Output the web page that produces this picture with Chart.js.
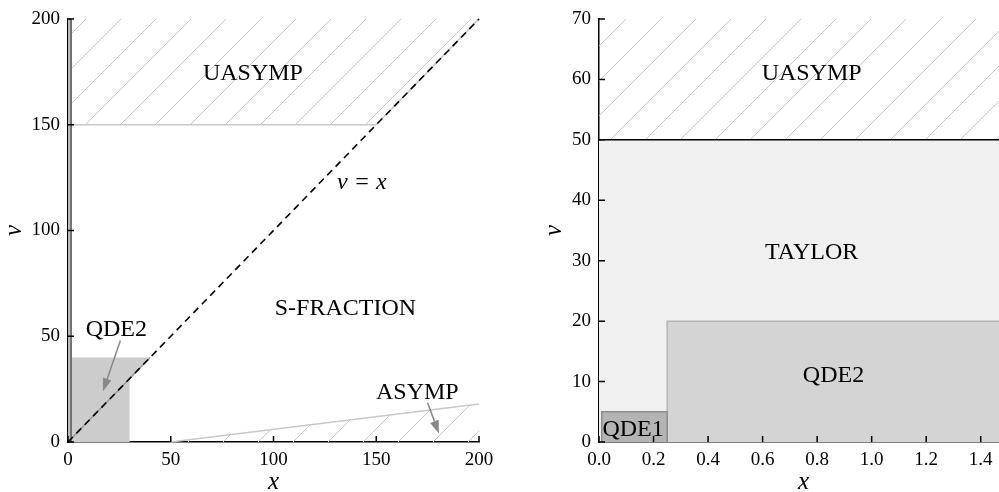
<!DOCTYPE html>
<html>
<head>
<meta charset="utf-8">
<script src="https://cdn.jsdelivr.net/npm/chart.js@4.4.1/dist/chart.umd.min.js"></script>
<style>
  html, body { margin: 0; padding: 0; background: #fff; overflow: hidden; }
  #wrapWide { position: absolute; left: 0; top: 0; width: 500px; height: 492px; }
  #wrapZoom { position: absolute; left: 540px; top: 0; width: 480px; height: 492px; }
</style>
</head>
<body>
<div id="wrapWide"><canvas id="wide"></canvas></div>
<div id="wrapZoom"><canvas id="zoom"></canvas></div>
<script>
// wide view, 0 <= x <= 200
const diagX = [0, 200];
const diagNu = [0, 200];
const uasympX = [0, 150, 200];
const uasympNu = [150, 150, 200];
const asympX = [50, 200];
const asympNu = [0, 18];
const qde2X = [0, 30, 30, 40];
const qde2Nu = [0, 0, 30, 40];
const qde2Top = 40;
const qde2EdgeX = [0, 40];
const qde2EdgeNu = [0, 40];
const stripX = [0, 1.5, 1.5];
const stripNu = [200, 200, 0];

// close-up, 0 <= x <= 1.5
const capX = [0, 1.5];
const capNu = [50, 50];
const qde2sX = [0.25, 0.25, 1.5];
const qde2sNu = [0, 20, 20];
const qde1X = [0.01, 0.01, 0.25, 0.25];
const qde1Nu = [0, 5, 5, 0];

const SERIF = '"Liberation Serif", "DejaVu Serif", serif';
Chart.defaults.font.family = SERIF;
Chart.defaults.color = '#000';

const pts = (xs, ys) => xs.map((v, i) => ({x: v, y: ys[i]}));

// diagonal hatch
function hatch() {
  const c = document.createElement('canvas');
  c.width = 35; c.height = 35;
  const g = c.getContext('2d');
  g.strokeStyle = '#c8c8c8';
  g.lineWidth = 1;
  g.beginPath();
  [-35, 0, 35].forEach(k => { g.moveTo(k, 35); g.lineTo(k + 35, 0); });
  g.stroke();
  return g.createPattern(c, 'repeat');
}
const hatchFill = hatch();

const inwardTicks = {
  id: 'inwardTicks',
  afterDraw(chart) {
    const {ctx, chartArea, scales: {x, y}} = chart;
    ctx.save();
    ctx.strokeStyle = '#000';
    ctx.lineWidth = 1.5;
    ctx.beginPath();
    x.ticks.forEach(t => {
      const px = x.getPixelForValue(t.value);
      ctx.moveTo(px, chartArea.bottom);
      ctx.lineTo(px, chartArea.bottom - 6);
    });
    y.ticks.forEach(t => {
      const py = y.getPixelForValue(t.value);
      ctx.moveTo(chartArea.left, py);
      ctx.lineTo(chartArea.left + 6, py);
    });
    ctx.stroke();
    ctx.restore();
  }
};

const notes = {
  id: 'notes',
  afterDatasetsDraw(chart, args, opts) {
    const {ctx, scales: {x, y}} = chart;
    ctx.save();
    (opts.arrows || []).forEach(a => {
      const x0 = x.getPixelForValue(a.from[0]), y0 = y.getPixelForValue(a.from[1]);
      const x1 = x.getPixelForValue(a.to[0]), y1 = y.getPixelForValue(a.to[1]);
      const ang = Math.atan2(y1 - y0, x1 - x0);
      const hl = 13, hw = 4.5;
      const bx = x1 - hl * Math.cos(ang), by = y1 - hl * Math.sin(ang);
      ctx.strokeStyle = '#888';
      ctx.fillStyle = '#888';
      ctx.lineWidth = 1.5;
      ctx.beginPath();
      ctx.moveTo(x0, y0);
      ctx.lineTo(bx, by);
      ctx.stroke();
      ctx.beginPath();
      ctx.moveTo(x1, y1);
      ctx.lineTo(bx + hw * Math.sin(ang), by - hw * Math.cos(ang));
      ctx.lineTo(bx - hw * Math.sin(ang), by + hw * Math.cos(ang));
      ctx.closePath();
      ctx.fill();
    });
    ctx.fillStyle = '#000';
    ctx.textAlign = 'center';
    ctx.textBaseline = 'middle';
    (opts.labels || []).forEach(l => {
      ctx.font = (l.italic ? 'italic ' : '') + '24px ' + SERIF;
      ctx.fillText(l.text, x.getPixelForValue(l.at[0]), y.getPixelForValue(l.at[1]));
    });
    ctx.restore();
  }
};

function axes(xMin, xMax, xStep, yMax, yStep, yWidth, fmt) {
  const common = {
    type: 'linear',
    z: 1,
    grid: {display: false},
    border: {display: true, color: '#000', width: 1.5},
    title: {display: true, font: {size: 25, style: 'italic', lineHeight: 0.8}, padding: 0}
  };
  return {
    x: Object.assign({}, common, {
      min: xMin, max: xMax,
      title: Object.assign({}, common.title, {text: 'x'}),
      ticks: {stepSize: xStep, includeBounds: false, padding: 1, maxRotation: 0, autoSkip: false,
              font: {size: 19, lineHeight: 1}, callback: fmt},
      afterFit(s) { s.height = 50; s.paddingLeft = 0; s.paddingRight = 0; }
    }),
    y: Object.assign({}, common, {
      min: 0, max: yMax,
      title: Object.assign({}, common.title, {text: 'ν', padding: {top: 4, bottom: 0}}),
      ticks: {stepSize: yStep, padding: 0, font: {size: 19}},
      afterFit(s) { s.width = yWidth; s.paddingTop = 0; s.paddingBottom = 0; }
    })
  };
}

const lineDefaults = {pointRadius: 0, tension: 0, clip: false};

new Chart(document.getElementById('wide'), {
  type: 'line',
  data: {
    datasets: [
      Object.assign({}, lineDefaults, {label: 'UASYMP', data: pts(uasympX, uasympNu), order: 6,
        borderColor: '#c8c8c8', borderWidth: 1.5, backgroundColor: hatchFill, fill: 'end'}),
      Object.assign({}, lineDefaults, {label: 'ASYMP', data: pts(asympX, asympNu), order: 5,
        borderColor: '#c8c8c8', borderWidth: 1.5, backgroundColor: hatchFill, fill: 'origin'}),
      Object.assign({}, lineDefaults, {label: 'QDE2', data: pts(qde2X, qde2Nu), order: 4,
        borderWidth: 0, borderColor: 'rgba(0,0,0,0)', backgroundColor: '#cccccc', fill: {value: qde2Top}}),
      Object.assign({}, lineDefaults, {label: 'QDE2 edge', data: pts(qde2EdgeX, qde2EdgeNu), order: 3,
        borderColor: '#999', borderWidth: 1.5, fill: false}),
      Object.assign({}, lineDefaults, {label: 'strip', data: pts(stripX, stripNu), order: 2,
        borderColor: '#666', borderWidth: 1, backgroundColor: '#bbbbbb', fill: 'origin'}),
      Object.assign({}, lineDefaults, {label: 'nu = x', data: pts(diagX, diagNu), order: 1,
        borderColor: '#000', borderWidth: 1.6, borderDash: [7, 5], fill: false})
    ]
  },
  options: {
    responsive: true,
    maintainAspectRatio: false,
    animation: false,
    layout: {padding: {left: 0, right: 21, top: 19, bottom: 0}},
    plugins: {
      legend: {display: false},
      tooltip: {enabled: false},
      notes: {
        labels: [
          {text: 'UASYMP', at: [90, 174]},
          {text: 'ν = x', at: [143, 122.5], italic: true},
          {text: 'S-FRACTION', at: [135, 63]},
          {text: 'QDE2', at: [23.5, 53]},
          {text: 'ASYMP', at: [170, 23.5]}
        ],
        arrows: [
          {from: [25.5, 48], to: [17, 24]},
          {from: [175, 18.5], to: [180.5, 4]}
        ]
      }
    },
    scales: axes(0, 200, 50, 200, 50, 68, v => v)
  },
  plugins: [notes, inwardTicks]
});

new Chart(document.getElementById('zoom'), {
  type: 'line',
  data: {
    datasets: [
      Object.assign({}, lineDefaults, {label: 'UASYMP', data: pts(capX, capNu), order: 5,
        borderColor: '#000', borderWidth: 1.5, backgroundColor: hatchFill, fill: 'end'}),
      Object.assign({}, lineDefaults, {label: 'TAYLOR', data: pts(capX, capNu), order: 4,
        borderColor: '#000', borderWidth: 1.5, backgroundColor: '#f0f0f0', fill: 'origin'}),
      Object.assign({}, lineDefaults, {label: 'QDE2', data: pts(qde2sX, qde2sNu), order: 3,
        borderColor: '#b4b4b4', borderWidth: 1.5, backgroundColor: '#d4d4d4', fill: 'origin'}),
      Object.assign({}, lineDefaults, {label: 'QDE1', data: pts(qde1X, qde1Nu), order: 2,
        borderColor: '#8c8c8c', borderWidth: 1.5, backgroundColor: '#b4b4b4', fill: 'origin'})
    ]
  },
  options: {
    responsive: true,
    maintainAspectRatio: false,
    animation: false,
    layout: {padding: {left: 0, right: 12, top: 19, bottom: 0}},
    plugins: {
      legend: {display: false},
      tooltip: {enabled: false},
      notes: {
        labels: [
          {text: 'UASYMP', at: [0.78, 61]},
          {text: 'TAYLOR', at: [0.78, 31.3]},
          {text: 'QDE2', at: [0.86, 11]},
          {text: 'QDE1', at: [0.125, 2]}
        ]
      }
    },
    scales: axes(0, 1.5, 0.2, 70, 10, 59, v => v.toFixed(1))
  },
  plugins: [notes, inwardTicks]
});
</script>
</body>
</html>
